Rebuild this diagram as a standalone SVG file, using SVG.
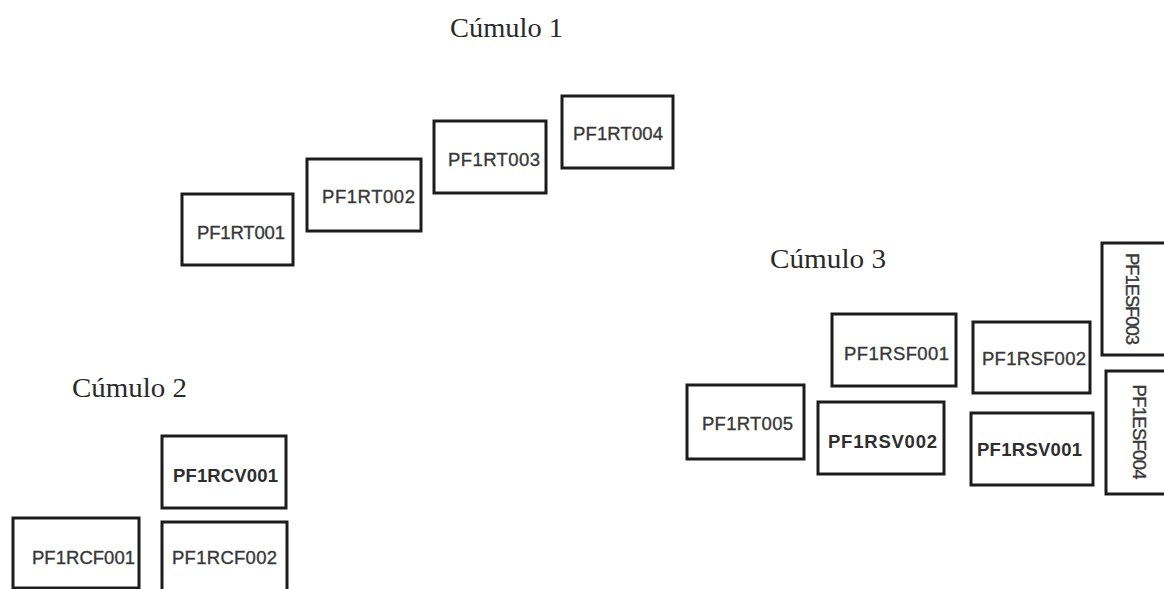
<svg xmlns="http://www.w3.org/2000/svg" width="1164" height="589" viewBox="0 0 1164 589">
  <style>
    .box { fill: #ffffff; stroke: #1c1c1c; stroke-width: 3; }
    .lbl { font-family: "Liberation Sans", Arial, sans-serif; font-size: 18.5px; fill: #383838; stroke: #383838; stroke-width: 0.35; text-anchor: middle; }
    .b { font-weight: bold; fill: #2e2e2e; stroke: none; }
    .title { font-family: "Liberation Serif", "Times New Roman", serif; font-size: 28px; fill: #2a2a2a; }
  </style>
  <rect width="1164" height="589" fill="#ffffff"/>

  <!-- cluster titles -->
  <g id="titles">
    <text class="title" x="450" y="37" textLength="113" lengthAdjust="spacingAndGlyphs">Cúmulo 1</text>
    <text class="title" x="72" y="397" textLength="115" lengthAdjust="spacingAndGlyphs">Cúmulo 2</text>
    <text class="title" x="770" y="268" textLength="116" lengthAdjust="spacingAndGlyphs">Cúmulo 3</text>
  </g>

  <!-- no connectors in this layout -->
  <g id="connectors"/>

  <!-- cluster 1 -->
  <g id="PF1RT001"><rect class="box" x="182" y="194" width="111" height="71"/><text class="lbl" x="241" y="238.5" textLength="88">PF1RT001</text></g>
  <g id="PF1RT002"><rect class="box" x="307" y="159" width="114" height="72"/><text class="lbl" x="368.5" y="202.5" textLength="93">PF1RT002</text></g>
  <g id="PF1RT003"><rect class="box" x="434" y="121" width="112" height="72"/><text class="lbl" x="494" y="165.5" textLength="92">PF1RT003</text></g>
  <g id="PF1RT004"><rect class="box" x="562" y="96" width="111" height="72"/><text class="lbl" x="618" y="139.5" textLength="90">PF1RT004</text></g>

  <!-- cluster 2 -->
  <g id="PF1RCV001"><rect class="box" x="162" y="436" width="124" height="72"/><text class="lbl b" x="225.5" y="481.5" textLength="105">PF1RCV001</text></g>
  <g id="PF1RCF001"><rect class="box" x="13" y="518" width="126" height="70"/><text class="lbl" x="83.5" y="563.5" textLength="103">PF1RCF001</text></g>
  <g id="PF1RCF002"><rect class="box" x="162" y="522" width="125" height="80"/><text class="lbl" x="224.5" y="563.5" textLength="105">PF1RCF002</text></g>

  <!-- cluster 3 -->
  <g id="PF1RT005"><rect class="box" x="687" y="385" width="117" height="74"/><text class="lbl" x="747.5" y="429.5" textLength="91">PF1RT005</text></g>
  <g id="PF1RSF001"><rect class="box" x="832" y="314" width="124" height="72"/><text class="lbl" x="896.5" y="359.5" textLength="105">PF1RSF001</text></g>
  <g id="PF1RSF002"><rect class="box" x="973" y="322" width="117" height="71"/><text class="lbl" x="1034" y="364.5" textLength="104">PF1RSF002</text></g>
  <g id="PF1RSV002"><rect class="box" x="818" y="402" width="126" height="72"/><text class="lbl b" x="882.5" y="447.5" textLength="109">PF1RSV002</text></g>
  <g id="PF1RSV001"><rect class="box" x="971" y="413" width="122" height="72"/><text class="lbl b" x="1029.5" y="455.5" textLength="105">PF1RSV001</text></g>
  <g id="PF1ESF003"><rect class="box" x="1102" y="243" width="70" height="112"/><text class="lbl" transform="translate(1132 299) rotate(90)" x="0" y="6.5" textLength="92">PF1ESF003</text></g>
  <g id="PF1ESF004"><rect class="box" x="1106" y="371" width="70" height="123"/><text class="lbl" transform="translate(1139 432) rotate(90)" x="0" y="6.5" textLength="95">PF1ESF004</text></g>
</svg>
